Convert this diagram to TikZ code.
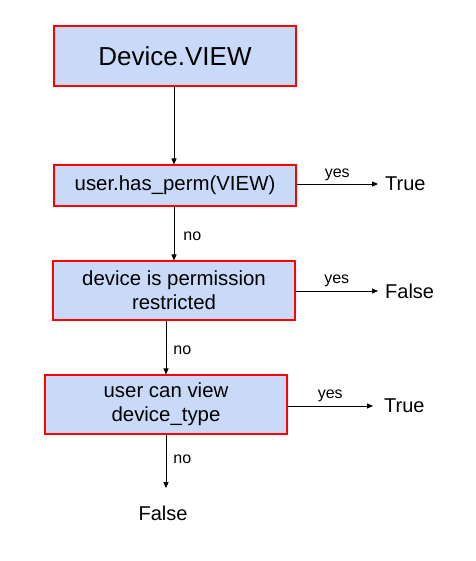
\documentclass[tikz,border=0pt]{standalone}
\usepackage{fontspec}
\setmainfont{Liberation Sans}
\usetikzlibrary{arrows.meta}
\definecolor{boxfill}{HTML}{C9DAF8}
\definecolor{boxline}{HTML}{FF0000}
\tikzset{
  stepbox/.style={draw=boxline, fill=boxfill, line width=1.1pt, minimum width=242pt, inner sep=0pt, align=center, font=\fontsize{20.4}{24}\selectfont},
  result/.style={inner sep=0pt, font=\fontsize{20}{24}\selectfont},
  conn/.style={line width=0.9pt, -{Triangle[length=6pt,width=5pt]}},
  lab/.style={font=\fontsize{16}{18}\selectfont, inner sep=0pt},
}
\begin{document}
\begin{tikzpicture}[x=1pt,y=-1pt]
\useasboundingbox (0,0) rectangle (475,561);
\node[stepbox, minimum height=60pt, font=\fontsize{26}{30}\selectfont] (b1) at (175,56) {Device.VIEW};
\node[stepbox, minimum height=41pt] (b2) at (175,185.5) {user.has\_perm(VIEW)};
\node[stepbox, minimum height=59pt] (b3) at (174,290.5) {device is permission\\restricted};
\node[stepbox, minimum height=59pt] (b4) at (166,404.5) {user can view\\device\_type};
\node[result, anchor=west] (t1) at (385,184) {True};
\node[result, anchor=west] (f1) at (385,291) {False};
\node[result, anchor=west] (t2) at (384,406) {True};
\node[result] (f2) at (163,513) {False};
\coordinate (e4) at (166,488);
\coordinate (r1) at (378,184);
\coordinate (r2) at (378,291);
\coordinate (r3) at (373,406);
\draw[conn] (b1.south -| 174,0) -- (b2.north -| 174,0);
\draw[conn] (b2.south -| 174,0) -- node[lab, anchor=west, xshift=9pt, yshift=-3pt] {no} (b3.north -| 174,0);
\draw[conn] (b3.south -| b4.north) -- node[lab, anchor=west, xshift=7pt, yshift=-3pt] {no} (b4.north);
\draw[conn] (b4.south) -- node[lab, anchor=west, xshift=7pt, yshift=2pt] {no} (e4);
\draw[conn] (b2.east |- r1) -- node[lab, anchor=south, yshift=3pt] {yes} (r1);
\draw[conn] (b3.east |- r2) -- node[lab, anchor=south, yshift=4pt] {yes} (r2);
\draw[conn] (b4.east |- r3) -- node[lab, anchor=south, yshift=4pt] {yes} (r3);
\end{tikzpicture}
\end{document}
